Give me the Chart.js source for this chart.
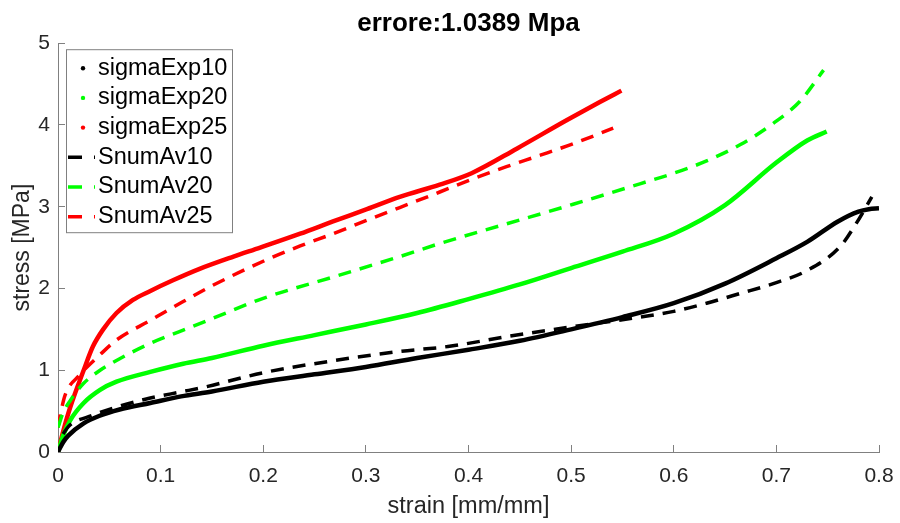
<!DOCTYPE html>
<html lang="en">
<head>
    <meta charset="UTF-8">
    <title>errore:1.0389 Mpa</title>
    <script src="https://cdn.jsdelivr.net/npm/chart.js"></script>
    <style>
        body { margin: 0; background: #fff; }
        #chart { display: block; }
    </style>
</head>
<body>
    <canvas id="chart" width="900" height="523"></canvas>

    <script>
        // experimental curves (plotted as dense dots -> thick solid line)
        const strainExp10 = [0, 0.005, 0.01, 0.025, 0.04, 0.06, 0.09, 0.12, 0.15, 0.2, 0.25, 0.3, 0.35, 0.4, 0.45, 0.5, 0.55, 0.6, 0.65, 0.7, 0.73, 0.76, 0.78, 0.79, 0.8];
        const stressExp10 = [0, 0.12, 0.2, 0.35, 0.44, 0.52, 0.6, 0.68, 0.74, 0.86, 0.95, 1.04, 1.15, 1.25, 1.36, 1.5, 1.65, 1.82, 2.06, 2.37, 2.57, 2.82, 2.94, 2.97, 2.98];

        const strainExp20 = [0, 0.005, 0.012, 0.025, 0.041, 0.057, 0.09, 0.122, 0.15, 0.2, 0.25, 0.3, 0.35, 0.4, 0.45, 0.5, 0.55, 0.6, 0.65, 0.7, 0.73, 0.749];
        const stressExp20 = [0, 0.2, 0.39, 0.6, 0.76, 0.86, 0.98, 1.08, 1.15, 1.3, 1.43, 1.56, 1.7, 1.87, 2.05, 2.25, 2.45, 2.67, 3.02, 3.54, 3.81, 3.92];

        const strainExp25 = [0, 0.005, 0.012, 0.025, 0.034, 0.044, 0.057, 0.073, 0.09, 0.112, 0.138, 0.171, 0.197, 0.236, 0.268, 0.301, 0.333, 0.372, 0.403, 0.447, 0.496, 0.528, 0.549];
        const stressExp25 = [0, 0.25, 0.55, 1.0, 1.29, 1.5, 1.7, 1.86, 1.97, 2.1, 2.24, 2.39, 2.5, 2.67, 2.82, 2.97, 3.12, 3.27, 3.41, 3.71, 4.06, 4.28, 4.42];

        // numerical averages (dashed)
        const strainAv10 = [0.005, 0.01, 0.034, 0.057, 0.09, 0.122, 0.145, 0.2, 0.27, 0.333, 0.38, 0.437, 0.5, 0.567, 0.6, 0.632, 0.665, 0.697, 0.73, 0.762, 0.778, 0.793];
        const stressAv10 = [0.22, 0.31, 0.45, 0.55, 0.66, 0.74, 0.8, 0.97, 1.12, 1.23, 1.29, 1.41, 1.53, 1.65, 1.72, 1.82, 1.94, 2.06, 2.22, 2.51, 2.8, 3.12];

        const strainAv20 = [0, 0.005, 0.012, 0.025, 0.041, 0.057, 0.09, 0.122, 0.15, 0.2, 0.268, 0.333, 0.372, 0.437, 0.502, 0.567, 0.6, 0.632, 0.665, 0.697, 0.723, 0.746];
        const stressAv20 = [0.3, 0.48, 0.63, 0.84, 1.0, 1.12, 1.33, 1.49, 1.63, 1.88, 2.14, 2.39, 2.55, 2.79, 3.03, 3.28, 3.41, 3.56, 3.76, 4.02, 4.29, 4.67];

        const strainAv25 = [0, 0.003, 0.007, 0.021, 0.041, 0.057, 0.09, 0.122, 0.148, 0.203, 0.236, 0.268, 0.3, 0.333, 0.372, 0.404, 0.437, 0.47, 0.502, 0.541];
        const stressAv25 = [0.3, 0.5, 0.7, 0.94, 1.19, 1.37, 1.61, 1.84, 2.02, 2.35, 2.52, 2.67, 2.83, 2.99, 3.18, 3.34, 3.49, 3.63, 3.77, 3.96];

        const xTicks = [0, 0.1, 0.2, 0.3, 0.4, 0.5, 0.6, 0.7, 0.8];
        const yTicks = [0, 1, 2, 3, 4, 5];

        const FONT = '"Liberation Sans", Arial, sans-serif';
        const AXIS_GREY = '#808080';
        const TEXT_GREY = '#262626';

        function toPoints(xs, ys) {
            return xs.map((x, i) => ({ x: x, y: ys[i] }));
        }

        function expSet(label, xs, ys, color) {
            return {
                label: label,
                data: toPoints(xs, ys),
                borderColor: color,
                backgroundColor: color,
                borderWidth: 4.5,
                pointRadius: 0,
                cubicInterpolationMode: 'monotone',
                order: 1,
                marker: 'dot'
            };
        }

        function numSet(label, xs, ys, color) {
            return {
                label: label,
                data: toPoints(xs, ys),
                borderColor: color,
                backgroundColor: color,
                borderWidth: 3.5,
                borderDash: [13, 9],
                pointRadius: 0,
                cubicInterpolationMode: 'monotone',
                order: 0,
                marker: 'line'
            };
        }

        // MATLAB-style legend box in the upper left corner of the axes
        const boxLegend = {
            id: 'boxLegend',
            afterDatasetsDraw(chart) {
                const ctx = chart.ctx;
                const area = chart.chartArea;
                const left = area.left + 8;
                const top = area.top + 6;
                const w = 166, h = 183;
                ctx.save();
                ctx.fillStyle = '#fff';
                ctx.fillRect(left, top, w, h);
                ctx.strokeStyle = AXIS_GREY;
                ctx.lineWidth = 1;
                ctx.strokeRect(left + 0.5, top + 0.5, w, h);
                ctx.font = '23.5px ' + FONT;
                ctx.textBaseline = 'middle';
                ctx.textAlign = 'left';
                chart.data.datasets.forEach((ds, i) => {
                    const y = top + 19 + i * 29.7;
                    if (ds.marker === 'dot') {
                        ctx.fillStyle = ds.borderColor;
                        ctx.beginPath();
                        ctx.arc(left + 17, y, 2.2, 0, Math.PI * 2);
                        ctx.fill();
                    } else {
                        ctx.strokeStyle = ds.borderColor;
                        ctx.lineWidth = 3.5;
                        ctx.setLineDash([14, 12]);
                        ctx.beginPath();
                        ctx.moveTo(left + 2, y);
                        ctx.lineTo(left + 29, y);
                        ctx.stroke();
                        ctx.setLineDash([]);
                    }
                    ctx.fillStyle = '#000';
                    ctx.fillText(ds.label, left + 32, y);
                });
                ctx.restore();
            }
        };

        new Chart(document.getElementById('chart'), {
            type: 'line',
            data: {
                datasets: [
                    expSet('sigmaExp10', strainExp10, stressExp10, '#000000'),
                    expSet('sigmaExp20', strainExp20, stressExp20, '#00ff00'),
                    expSet('sigmaExp25', strainExp25, stressExp25, '#ff0000'),
                    numSet('SnumAv10', strainAv10, stressAv10, '#000000'),
                    numSet('SnumAv20', strainAv20, stressAv20, '#00ff00'),
                    numSet('SnumAv25', strainAv25, stressAv25, '#ff0000')
                ]
            },
            options: {
                responsive: false,
                animation: false,
                devicePixelRatio: 1,
                layout: { padding: { left: 0, right: 21, top: 0, bottom: 0 } },
                plugins: {
                    legend: { display: false },
                    tooltip: { enabled: false },
                    title: {
                        display: true,
                        text: 'errore:1.0389 Mpa',
                        fullSize: false,
                        color: '#000',
                        font: { family: FONT, size: 26, weight: 'bold', lineHeight: 1.2 },
                        padding: { top: 8, bottom: 4 }
                    }
                },
                scales: {
                    x: {
                        type: 'linear',
                        min: 0,
                        max: 0.8,
                        afterFit: s => {
                            s.height = 71;
                            // tick padding would otherwise widen the right margin
                            s.paddingLeft = 0;
                            s.paddingRight = 16;
                        },
                        afterBuildTicks: s => { s.ticks = xTicks.map(v => ({ value: v })); },
                        ticks: {
                            color: TEXT_GREY,
                            font: { family: FONT, size: 21 },
                            padding: 19,
                            maxRotation: 0,
                            callback: v => String(+v.toFixed(1))
                        },
                        grid: { drawOnChartArea: false, drawTicks: true, tickLength: -7, color: AXIS_GREY },
                        border: { display: true, color: AXIS_GREY, width: 1 },
                        title: {
                            display: true,
                            text: 'strain [mm/mm]',
                            color: TEXT_GREY,
                            font: { family: FONT, size: 23.5 },
                            padding: { top: 0, bottom: 2 }
                        }
                    },
                    y: {
                        min: 0,
                        max: 5,
                        afterFit: s => { s.width = 58; },
                        afterBuildTicks: s => { s.ticks = yTicks.map(v => ({ value: v })); },
                        ticks: {
                            color: TEXT_GREY,
                            font: { family: FONT, size: 21 },
                            padding: 15
                        },
                        grid: { drawOnChartArea: false, drawTicks: true, tickLength: -7, color: AXIS_GREY },
                        border: { display: true, color: AXIS_GREY, width: 1 },
                        title: {
                            display: true,
                            text: 'stress [MPa]',
                            color: TEXT_GREY,
                            font: { family: FONT, size: 23 },
                            padding: { top: 9, bottom: 0 }
                        }
                    }
                }
            },
            plugins: [boxLegend]
        });
    </script>
</body>
</html>
